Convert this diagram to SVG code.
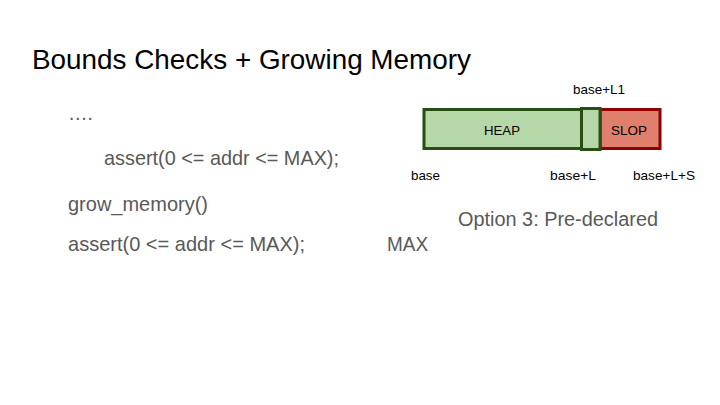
<svg xmlns="http://www.w3.org/2000/svg" width="720" height="405" viewBox="0 0 720 405">
<style>
text{font-family:"Liberation Sans",Arial,sans-serif;}
.t{font-size:28px;fill:#000;}
.b{font-size:21px;fill:#595959;}
.o{font-size:20px;fill:#595959;}
.s{font-size:13.5px;fill:#000;}
.heap{fill:#b6d7a8;stroke:#274e13;stroke-width:3;}
.slop{fill:#e07f6e;stroke:#8e0000;stroke-width:3;}
</style>
<rect width="720" height="405" fill="#fff"/>
<text class="t" x="32" y="69" textLength="439" lengthAdjust="spacingAndGlyphs">Bounds Checks + Growing Memory</text>
<g id="code">
<text class="b" x="68" y="120" textLength="25" lengthAdjust="spacingAndGlyphs">….</text>
<text class="b" x="104" y="165" textLength="235" lengthAdjust="spacingAndGlyphs">assert(0 &lt;= addr &lt;= MAX);</text>
<text class="b" x="68" y="211" textLength="140" lengthAdjust="spacingAndGlyphs">grow_memory()</text>
<text class="b" x="68" y="251" textLength="237" lengthAdjust="spacingAndGlyphs">assert(0 &lt;= addr &lt;= MAX);</text>
</g>
<g id="slop">
<rect class="slop" x="600" y="109.5" width="60" height="39"/>
<text class="s" x="611" y="135" textLength="36" lengthAdjust="spacingAndGlyphs" fill="#3a2a2a">SLOP</text>
</g>
<g id="heap">
<rect class="heap" x="424" y="109.5" width="176" height="39"/>
<text class="s" x="484" y="135" textLength="36" lengthAdjust="spacingAndGlyphs">HEAP</text>
</g>
<g id="l1">
<rect class="heap" x="581.5" y="108.5" width="18.5" height="41"/>
</g>
<g id="labels">
<text class="s" x="573" y="94" textLength="52" lengthAdjust="spacingAndGlyphs">base+L1</text>
<text class="s" x="411" y="180" textLength="29" lengthAdjust="spacingAndGlyphs">base</text>
<text class="s" x="550" y="180" textLength="46" lengthAdjust="spacingAndGlyphs">base+L</text>
<text class="s" x="633" y="180" textLength="62" lengthAdjust="spacingAndGlyphs">base+L+S</text>
<text class="o" x="458" y="226" textLength="200" lengthAdjust="spacingAndGlyphs">Option 3: Pre-declared</text>
<text class="o" x="387" y="251" textLength="41" lengthAdjust="spacingAndGlyphs">MAX</text>
</g>
<g id="connectors"/>
</svg>
